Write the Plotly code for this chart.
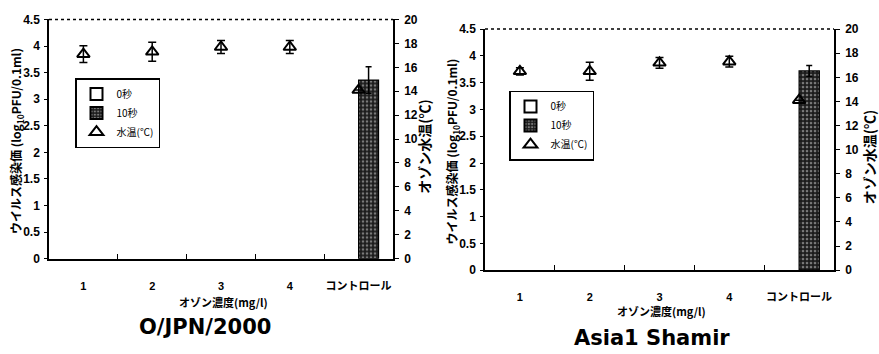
import plotly.graph_objects as go

# ---- data ----
categories = ["1", "2", "3", "4", "コントロール"]

# panel A: O/JPN/2000
a_zero_sec = [None, None, None, None, None]
a_ten_sec = [None, None, None, None, 3.36]
a_ten_err = [0, 0, 0, 0, 0.25]
a_temp = [17.1, 17.3, 17.7, 17.7, 14.1]
a_temp_err = [0.7, 0.8, 0.55, 0.55, 0]

# panel B: Asia1 Shamir
b_zero_sec = [None, None, None, None, None]
b_ten_sec = [None, None, None, None, 3.72]
b_ten_err = [0, 0, 0, 0, 0.1]
b_temp = [16.5, 16.5, 17.2, 17.3, 14.1]
b_temp_err = [0.3, 0.75, 0.45, 0.45, 0]

panel_titles = ["O/JPN/2000", "Asia1 Shamir"]
y_left_title = "ウイルス感染価 (log<sub>10</sub>PFU/0.1ml)"
y_right_title = "オゾン水温(℃)"
x_title = "オゾン濃度(mg/l)"

W, H = 879, 354
CJK = "Noto Sans CJK JP"
NUM = "Liberation Sans Narrow, Liberation Sans, Arial"

pattern = dict(shape=".", bgcolor="#1c1c1c", fgcolor="#d8d8d8", size=4, solidity=0.35)


def px(x):
    return x / W


def py(y):
    return 1 - y / H


fig = go.Figure()


def add_panel(zero, ten, ten_err, temp, temp_err, xa, ya, ya2, legend):
    fig.add_trace(go.Bar(
        x=categories, y=zero, name="0秒", xaxis=xa, yaxis=ya, legend=legend,
        marker=dict(color="white", line=dict(color="black", width=1.5)),
    ))
    fig.add_trace(go.Bar(
        x=categories, y=ten, name="10秒", xaxis=xa, yaxis=ya, legend=legend,
        marker=dict(color="#1c1c1c", pattern=pattern, line=dict(color="black", width=1.2)),
        error_y=dict(type="data", array=ten_err, color="black", thickness=1.5, width=3),
    ))
    fig.add_trace(go.Scatter(
        x=categories, y=temp, name="水温(℃)", xaxis=xa, yaxis=ya2, legend=legend,
        mode="markers",
        marker=dict(symbol="triangle-up-open", size=11, color="black", line=dict(width=2)),
        error_y=dict(type="data", array=temp_err, color="black", thickness=1.5, width=4),
    ))


add_panel(a_zero_sec, a_ten_sec, a_ten_err, a_temp, a_temp_err, "x", "y", "y2", "legend")
add_panel(b_zero_sec, b_ten_sec, b_ten_err, b_temp, b_temp_err, "x2", "y3", "y4", "legend2")

tickfont = dict(family=NUM, size=12, color="black", weight="bold")
xtickfont = dict(family=NUM + ", " + CJK, size=11, color="black", weight="bold")

# plot-area pixel boxes: (left, right, top, bottom)
boxA = (49, 393, 13, 262)
boxB = (485, 834, 23, 274)


def xaxis_for(box, anchor):
    return dict(domain=[px(box[0]), px(box[1])], anchor=anchor, showline=True,
                linecolor="black", linewidth=1.5, ticks="inside", ticklen=5,
                tickcolor="black", tickson="boundaries", tickfont=xtickfont,
                tickangle=0, ticklabelstandoff=16, showgrid=False, zeroline=False,
                fixedrange=True)


def yleft_for(box, anchor):
    return dict(domain=[py(box[3]), py(box[2])], anchor=anchor, range=[0, 4.5], dtick=0.5,
                showline=True, linecolor="black", linewidth=1.5, ticks="outside",
                ticklen=3, tickcolor="black", tickfont=tickfont, showgrid=False,
                zeroline=False, ticklabelstandoff=2)


def yright_for(overlay, anchor):
    return dict(overlaying=overlay, anchor=anchor, side="right", range=[0, 20], dtick=2,
                showline=True, linecolor="black", linewidth=1.5, ticks="outside",
                ticklen=4, tickcolor="black", tickfont=tickfont, showgrid=False,
                zeroline=False, ticklabelstandoff=3)


legend_common = dict(
    bgcolor="white", bordercolor="black", borderwidth=1.5,
    font=dict(family=CJK, size=10, color="black"), itemwidth=30,
    xanchor="left", yanchor="top", tracegroupgap=0, itemsizing="constant",
)


def centered(text, x, y, font, angle=0):
    return dict(text=text, x=px(x), y=py(y), xref="paper", yref="paper",
                xanchor="center", yanchor="middle", textangle=angle,
                showarrow=False, font=font)


annotations = []
for box, title, tx, ty, xl, xr, xtx, xty in [
    (boxA, panel_titles[0], 205, 333, 17, 424, 224, 307),
    (boxB, panel_titles[1], 652, 345, 453, 869, 661, 317),
]:
    cy = (box[2] + box[3]) / 2 + 2
    annotations += [
        centered(y_left_title, xl, cy,
                 dict(family=CJK, size=12, color="black", weight="bold"), -90),
        centered(y_right_title, xr, cy + 6,
                 dict(family=CJK, size=14, color="black", weight="bold"), -90),
        centered(x_title, xtx, xty,
                 dict(family=CJK, size=11, color="black", weight="bold")),
        centered(title, tx, ty,
                 dict(family="DejaVu Sans", size=21, color="black", weight="bold")),
    ]

shapes = [
    dict(type="line", xref="x domain", yref="y domain", x0=0, x1=1, y0=1, y1=1,
         line=dict(color="black", width=1.5, dash="dot")),
    dict(type="line", xref="x2 domain", yref="y3 domain", x0=0, x1=1, y0=1, y1=1,
         line=dict(color="black", width=1.5, dash="dot")),
]

fig.update_layout(
    width=W, height=H, margin=dict(l=0, r=0, t=0, b=0),
    paper_bgcolor="white", plot_bgcolor="white",
    barmode="group", bargap=0.42, bargroupgap=0,
    xaxis=xaxis_for(boxA, "y"),
    yaxis=yleft_for(boxA, "x"),
    yaxis2=yright_for("y", "x"),
    xaxis2=xaxis_for(boxB, "y3"),
    yaxis3=yleft_for(boxB, "x2"),
    yaxis4=yright_for("y3", "x2"),
    legend=dict(x=px(75), y=py(74), **legend_common),
    legend2=dict(x=px(509), y=py(87), **legend_common),
    annotations=annotations,
    shapes=shapes,
    showlegend=True,
)

fig.write_html("out.html")
